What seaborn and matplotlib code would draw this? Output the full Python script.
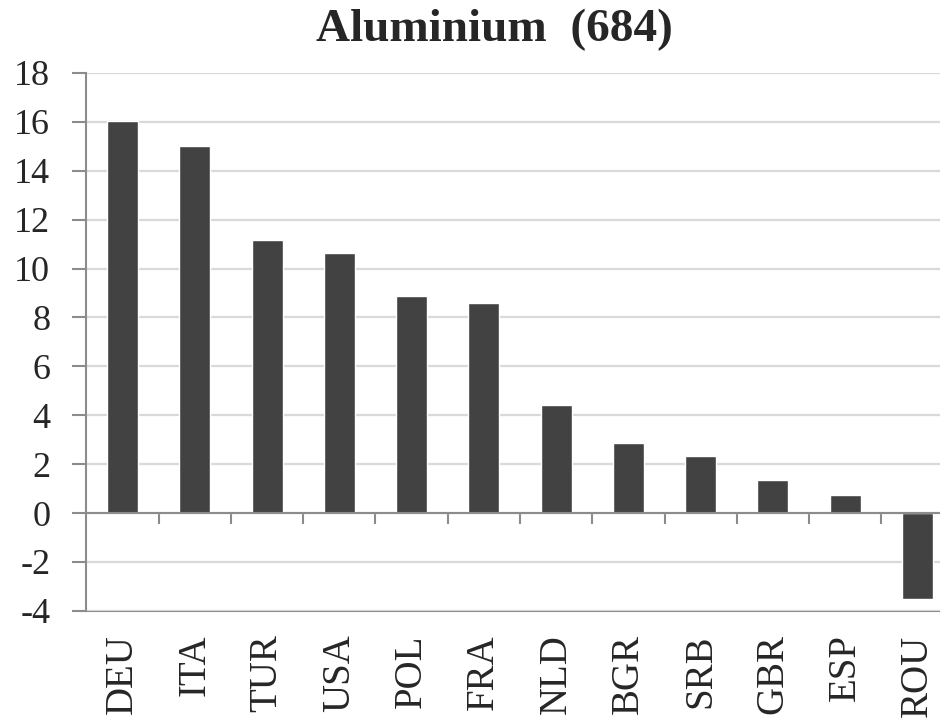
"""
Aluminium (684): bar chart of values by country, recreated with seaborn.
"""

import matplotlib.pyplot as plt
import pandas as pd
import seaborn as sns


TITLE = "Aluminium  (684)"
COUNTRIES = ["DEU", "ITA", "TUR", "USA", "POL", "FRA", "NLD", "BGR", "SRB", "GBR", "ESP", "ROU"]
VALUES = [16.05, 15.0, 11.17, 10.65, 8.86, 8.6, 4.42, 2.87, 2.34, 1.35, 0.74, -3.52]
Y_TICKS = list(range(-4, 19, 2))

BAR_COLOR = "#424242"
AXIS_COLOR = "#8c8c8c"
GRID_COLOR = "#d9d9d9"


def main() -> None:
    sns.set_theme(style="white")
    plt.rcParams["font.family"] = ["Liberation Serif", "DejaVu Serif"]
    plt.rcParams["axes.unicode_minus"] = False

    df = pd.DataFrame({"country": COUNTRIES, "value": VALUES})

    fig = plt.figure(figsize=(9.4, 7.22), dpi=100)
    ax = fig.add_axes([0.0919, 0.154, 0.9226, 0.745])

    sns.barplot(data=df, x="country", y="value", color=BAR_COLOR, saturation=1,
                width=0.43, ax=ax, zorder=3)

    ax.set_ylim(Y_TICKS[0], Y_TICKS[-1])
    ax.set_xlim(-0.5, len(COUNTRIES) - 0.5)
    ax.set_yticks(Y_TICKS)
    ax.set_xlabel("")
    ax.set_ylabel("")

    # horizontal grid
    ax.yaxis.grid(True, color=GRID_COLOR, linewidth=1.6, zorder=0)
    ax.set_axisbelow(True)

    # spines: left axis, zero line with ticks between categories
    for side in ["top", "right"]:
        ax.spines[side].set_visible(False)
    ax.spines["left"].set_color(AXIS_COLOR)
    ax.spines["left"].set_linewidth(1.5)
    ax.spines["bottom"].set_position(("data", 0))
    ax.spines["bottom"].set_color(AXIS_COLOR)
    ax.spines["bottom"].set_linewidth(1.5)
    ax.spines["bottom"].set_zorder(4)

    ax.set_xticks(range(len(COUNTRIES)))
    ax.set_xticklabels([])
    ax.set_xticks([i + 0.5 for i in range(len(COUNTRIES) - 1)], minor=True)
    ax.tick_params(axis="x", which="major", length=0)
    ax.tick_params(axis="x", which="minor", bottom=True, length=8, width=1.5,
                   color=AXIS_COLOR, direction="out")
    ax.tick_params(axis="y", length=10, width=1.5, color=AXIS_COLOR, direction="out",
                   labelsize=26, pad=16, left=True)

    # country labels at the bottom of the plot area
    sec = ax.secondary_xaxis(0)
    sec.set_xticks(range(len(COUNTRIES)), labels=COUNTRIES, rotation=90)
    sec.tick_params(length=0, labelsize=28, pad=17)
    sec.spines["bottom"].set_color(AXIS_COLOR)
    sec.spines["bottom"].set_linewidth(1.5)

    fig.text(0.5255, 0.958, TITLE, ha="center", va="center", fontsize=34, fontweight="bold")

    fig.savefig("out.png", dpi=100)
    plt.close(fig)


if __name__ == "__main__":
    main()
